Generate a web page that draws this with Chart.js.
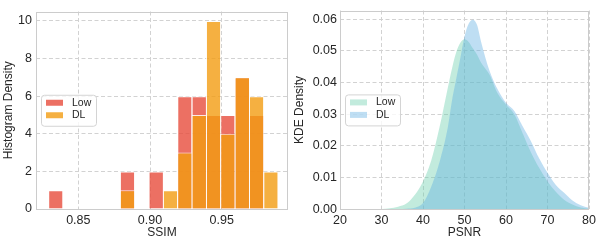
<!DOCTYPE html>
<html>
<head>
<meta charset="utf-8">
<script src="https://cdn.jsdelivr.net/npm/chart.js@4.4.1/dist/chart.umd.min.js"></script>
<style>
  body { margin: 0; background: #fff; }
  #wrap { position: relative; width: 600px; height: 240px; }
  canvas { position: absolute; top: 0; }
  #histChart { left: 0; }
  #kdeChart { left: 290px; }
</style>
</head>
<body>
<div id="wrap">
  <canvas id="histChart" width="300" height="240"></canvas>
  <canvas id="kdeChart" width="310" height="240"></canvas>
</div>
<script>
// ---- SSIM histogram (bin centres, width 0.01) ----
const binCenters = [0.834, 0.844, 0.854, 0.864, 0.874, 0.884, 0.894, 0.904,
                    0.914, 0.924, 0.934, 0.944, 0.954, 0.964, 0.974, 0.984];
const lowHist = [1, 0, 0, 0, 0, 2, 0, 2, 0, 6, 6, 5, 5, 7, 5, 0];
const dlHist  = [0, 0, 0, 0, 0, 1, 0, 0, 1, 3, 5, 10, 4, 7, 6, 2];
const ssimTicks = [0.85, 0.90, 0.95];
const histTicks = [0, 2, 4, 6, 8, 10];

// ---- PSNR KDE ----
const psnrGrid = [20, 26, 30, 32, 34, 36, 38, 40, 42, 44, 46, 47, 48, 49, 50, 51,
                  52, 53, 54, 56, 58, 60, 62, 64, 66, 68, 70, 72, 74, 76, 78, 80];
const lowKde = [0, 0, 0.0001, 0.0003, 0.0008, 0.0018, 0.0045, 0.0088, 0.0155, 0.026,
                0.0385, 0.0445, 0.0495, 0.0525, 0.0536, 0.0528, 0.0508, 0.0488, 0.0462,
                0.0425, 0.0365, 0.033, 0.030, 0.024, 0.018, 0.013, 0.0088, 0.0055,
                0.003, 0.0015, 0.0006, 0.0002];
const dlKde = [0, 0, 0, 0, 0.0001, 0.0002, 0.0005, 0.002, 0.0072, 0.015, 0.026,
               0.0345, 0.0412, 0.0478, 0.0545, 0.0585, 0.0598, 0.0582, 0.0528, 0.0438,
               0.0378, 0.0336, 0.031, 0.0262, 0.0215, 0.016, 0.0115, 0.0077, 0.0052,
               0.0028, 0.0013, 0.0005];
const psnrTicks = [20, 30, 40, 50, 60, 70, 80];
const kdeTicks = [0, 0.01, 0.02, 0.03, 0.04, 0.05, 0.06];

Chart.defaults.font.family = "'Liberation Sans', Arial, sans-serif";
Chart.defaults.font.size = 12;
Chart.defaults.color = '#262626';

const GRID = '#d2d2d2';
const DASH = [4, 2.5];
const TICK_FONT = { size: 12.5 };

// frame round the plot + matplotlib-like legend box on the left middle
const frameLegend = {
    id: 'frameLegend',
    afterDatasetsDraw(chart) {
        const { ctx, chartArea: a } = chart;
        ctx.save();
        ctx.strokeStyle = '#cccccc';
        ctx.lineWidth = 1;
        ctx.strokeRect(Math.round(a.left) + 0.5, Math.round(a.top) + 0.5,
                       Math.round(a.right - a.left) - 1, Math.round(a.bottom - a.top) - 1);

        const bx = a.left + 5, bw = 55, bh = 31;
        const by = (a.top + a.bottom) / 2 - bh / 2;
        ctx.beginPath();
        ctx.roundRect(bx + 0.5, by + 0.5, bw, bh, 3);
        ctx.fillStyle = 'rgba(255,255,255,0.8)';
        ctx.fill();
        ctx.strokeStyle = '#d4d4d4';
        ctx.stroke();

        ctx.font = "10.5px 'Liberation Sans', Arial, sans-serif";
        ctx.textBaseline = 'middle';
        ctx.textAlign = 'left';
        chart.data.datasets.forEach((ds, i) => {
            const cy = by + 8 + i * 12.5;
            ctx.fillStyle = ds.legendColor;
            ctx.fillRect(bx + 5, cy - 3, 17, 6);
            ctx.fillStyle = '#262626';
            ctx.fillText(ds.label, bx + 31, cy);
        });
        ctx.restore();
    }
};

function fixedTicks(list) {
    return (scale) => { scale.ticks = list.map(v => ({ value: v })); };
}

// ---- left: histogram ----
const toBars = vals => binCenters.map((x, i) => ({ x, y: vals[i] || null }));
const barStyle = {
    grouped: false, categoryPercentage: 1, barPercentage: 1, inflateAmount: 0,
    borderColor: 'rgba(255,255,255,0.85)',
    borderWidth: { top: 1, left: 1, right: 0, bottom: 0 }
};

new Chart(document.getElementById('histChart'), {
    type: 'bar',
    data: {
        datasets: [
            { label: 'Low', data: toBars(lowHist), backgroundColor: 'rgba(231,76,60,0.8)',
              legendColor: 'rgba(231,76,60,0.8)', order: 2, ...barStyle },
            { label: 'DL', data: toBars(dlHist), backgroundColor: 'rgba(243,156,18,0.8)',
              legendColor: 'rgba(243,156,18,0.8)', order: 1, ...barStyle }
        ]
    },
    options: {
        responsive: false, animation: false,
        layout: { padding: { left: 0, right: 12, top: 2, bottom: 0 } },
        plugins: { legend: { display: false }, tooltip: { enabled: false } },
        scales: {
            x: {
                type: 'linear', min: 0.8205, max: 0.9962, offset: false,
                afterBuildTicks: fixedTicks(ssimTicks),
                afterFit: s => { s.height = 31; },
                ticks: { padding: 4, font: TICK_FONT, maxRotation: 0, autoSkip: false, callback: v => v.toFixed(2) },
                grid: { color: GRID, offset: false, drawTicks: false },
                border: { display: false, dash: DASH },
                title: { display: true, text: 'SSIM', padding: { top: 0, bottom: 0 } }
            },
            y: {
                min: 0, max: 10.5,
                afterBuildTicks: fixedTicks(histTicks),
                afterFit: s => { s.width = 36; },
                ticks: { padding: 4, font: TICK_FONT, autoSkip: false },
                grid: { color: GRID, drawTicks: false },
                border: { display: false, dash: DASH },
                title: { display: true, text: 'Histogram Density', padding: { top: 1, bottom: 0 } }
            }
        }
    },
    plugins: [frameLegend]
});

// ---- right: KDE ----
const toPts = vals => psnrGrid.map((x, i) => ({ x, y: vals[i] }));
const areaStyle = {
    fill: 'origin', borderWidth: 0, pointRadius: 0, cubicInterpolationMode: 'monotone'
};

new Chart(document.getElementById('kdeChart'), {
    type: 'line',
    data: {
        datasets: [
            { label: 'Low', data: toPts(lowKde), backgroundColor: 'rgba(102,205,170,0.4)',
              borderColor: 'rgba(102,205,170,0)', legendColor: 'rgba(102,205,170,0.4)', order: 2, ...areaStyle },
            { label: 'DL', data: toPts(dlKde), backgroundColor: 'rgba(93,173,226,0.4)',
              borderColor: 'rgba(93,173,226,0)', legendColor: 'rgba(93,173,226,0.4)', order: 1, ...areaStyle }
        ]
    },
    options: {
        responsive: false, animation: false,
        layout: { padding: { left: 0, right: 7.3, top: 2, bottom: 0 } },
        plugins: { legend: { display: false }, tooltip: { enabled: false } },
        scales: {
            x: {
                type: 'linear', min: 20, max: 80,
                afterBuildTicks: fixedTicks(psnrTicks),
                afterFit: s => { s.height = 30.7; },
                ticks: { padding: 4, font: TICK_FONT, maxRotation: 0, autoSkip: false },
                grid: { color: GRID, drawTicks: false },
                border: { display: false, dash: DASH },
                title: { display: true, text: 'PSNR', padding: { top: 0, bottom: 0 } }
            },
            y: {
                min: 0, max: 0.0627,
                afterBuildTicks: fixedTicks(kdeTicks),
                afterFit: s => { s.width = 50; },
                ticks: { padding: 3, font: TICK_FONT, autoSkip: false, callback: v => v.toFixed(2) },
                grid: { color: GRID, drawTicks: false },
                border: { display: false, dash: DASH },
                title: { display: true, text: 'KDE Density', padding: { top: 2.3, bottom: 0 } }
            }
        }
    },
    plugins: [frameLegend]
});
</script>
</body>
</html>
